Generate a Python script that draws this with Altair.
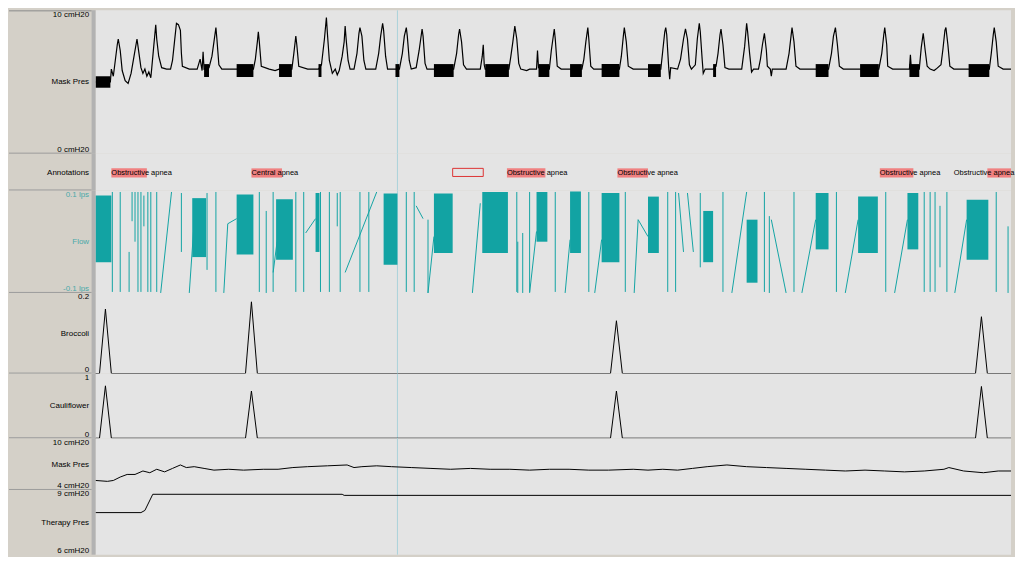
import altair as alt
import pandas as pd

FONT = "Liberation Sans"
LEFT = 87          # width of the label column
W = 920            # plot width
T_MAX = 928        # seconds shown

# ---------------- data ----------------
cursor_t = [306]

# Mask pressure (upper channel, cmH2O): (time s, value)
mask_pres_trace = [
    (0, 5.0), (15, 5.0), (16, 5.9), (18, 5.4), (20, 6.5), (22, 7.6), (23, 8.0), (25, 7.2), (27, 5.8), (30, 5.1), (33, 4.9),
    (36, 5.6), (39, 6.8), (42, 8.0), (44, 7.0), (46, 6.0), (48, 5.6), (50, 5.9), (52, 5.4), (54, 5.7), (56, 5.3),
    (57, 6.0), (59, 7.5), (61, 9.0), (62, 8.0), (64, 6.8), (67, 6.0), (72, 5.9), (76, 5.9),
    (78, 6.5), (80, 7.8), (82, 9.1), (84, 9.0), (86, 8.6), (87, 7.0), (88, 6.1), (95, 5.9), (103, 5.9),
    (106, 6.6), (108, 5.8), (109, 7.1), (110, 5.9), (115, 6.0),
    (118, 6.8), (120, 7.8), (122, 8.8), (123, 8.0), (125, 6.2), (128, 5.9), (143, 5.9), (160, 5.9),
    (162, 6.6), (164, 7.8), (165, 8.5), (166, 7.8), (168, 6.1), (176, 5.9), (182, 5.8), (186, 5.9), (199, 5.9),
    (201, 7.0), (203, 8.2), (204, 7.6), (206, 6.1), (215, 5.9), (226, 5.9), (229, 6.2),
    (232, 8.0), (234, 9.5), (235, 8.4), (237, 6.5), (240, 5.6), (243, 5.9), (245, 5.5), (247, 5.8),
    (250, 6.8), (252, 7.8), (253, 8.9), (254, 8.0), (256, 6.5), (258, 5.9), (262, 5.9),
    (265, 7.0), (267, 8.4), (268, 8.8), (270, 8.2), (272, 6.5), (274, 5.9), (284, 5.9),
    (287, 7.0), (289, 8.2), (291, 9.1), (292, 8.6), (294, 6.8), (296, 5.9), (304, 5.9), (308, 5.9),
    (311, 7.0), (313, 8.2), (315, 8.8), (316, 8.2), (318, 6.5), (320, 5.9), (325, 6.0),
    (328, 7.2), (331, 8.7), (332, 8.2), (334, 6.3), (336, 5.9), (343, 5.9), (363, 5.9),
    (366, 7.0), (368, 8.3), (369, 8.7), (371, 7.8), (373, 6.2), (376, 5.9), (390, 5.9),
    (392, 6.8), (393, 7.6), (394, 6.2), (395, 5.9), (419, 5.9),
    (421, 6.8), (423, 7.8), (425, 8.9), (427, 8.0), (429, 6.3), (431, 5.9), (437, 5.8), (440, 5.9),
    (447, 5.9), (448, 7.2), (449, 6.0), (460, 5.9),
    (462, 7.2), (465, 8.7), (466, 8.0), (468, 6.1), (472, 5.9), (481, 5.9), (493, 5.9),
    (495, 6.6), (497, 7.8), (499, 8.8), (500, 8.0), (502, 6.1), (505, 5.9), (513, 5.9), (531, 5.9),
    (533, 6.8), (535, 8.2), (536, 8.8), (538, 7.8), (540, 6.1), (545, 5.9), (560, 5.9), (573, 5.9),
    (575, 7.2), (577, 8.5), (578, 8.8), (579, 8.3), (581, 6.0), (582, 5.2), (583, 6.0), (590, 5.9),
    (593, 6.6), (596, 8.0), (598, 8.7), (600, 8.0), (602, 6.2), (604, 5.9),
    (608, 6.2), (610, 8.0), (612, 9.1), (613, 8.5), (615, 6.5), (616, 5.6), (618, 5.9), (626, 5.9), (629, 6.1),
    (631, 7.0), (633, 8.3), (634, 8.7), (636, 7.6), (638, 6.0), (642, 5.9), (655, 5.9),
    (658, 7.5), (660, 9.1), (661, 8.5), (663, 7.0), (665, 5.7), (667, 5.9), (672, 5.9),
    (674, 6.6), (676, 7.6), (678, 8.4), (680, 7.2), (681, 6.1), (684, 5.9), (685, 5.4), (686, 5.9), (700, 5.9),
    (703, 7.0), (705, 8.2), (706, 8.8), (708, 7.8), (710, 6.1), (714, 5.9), (730, 5.9), (743, 5.9),
    (746, 7.0), (748, 8.2), (750, 8.8), (752, 7.6), (754, 6.1), (758, 5.9), (775, 5.9), (794, 5.9),
    (797, 7.0), (799, 8.3), (800, 8.8), (802, 7.6), (803, 6.1), (808, 5.9), (825, 5.9), (826, 6.9), (827, 5.9), (835, 5.9),
    (837, 7.4), (839, 8.4), (841, 7.2), (843, 6.1), (846, 5.9), (850, 5.8), (852, 5.9),
    (857, 6.2), (859, 7.3), (861, 8.6), (862, 8.8), (864, 7.6), (866, 6.1), (870, 5.9), (885, 5.9), (906, 5.9),
    (908, 7.0), (910, 8.3), (911, 8.8), (913, 7.8), (915, 6.1), (920, 5.9), (928, 5.9),
]
# dense oscillation blocks in mask pressure
mask_blk_t0 = [0, 110, 143, 186, 226, 304, 343, 395, 449, 481, 513, 560, 626, 730, 775, 825, 885]
mask_blk_t1 = [15, 115, 160, 199, 229, 308, 363, 419, 460, 493, 531, 573, 629, 743, 794, 835, 906]
mask_blk_lo = [4.6] + [5.35] * 16
mask_blk_hi = [5.4] + [6.25] * 16

# Annotations
ann_t = [16, 158, 417, 529, 795, 870]
ann_label = ["Obstructive apnea", "Central apnea", "Obstructive apnea",
             "Obstructive apnea", "Obstructive apnea", "Obstructive apnea"]
hl_t0 = [16, 158, 417, 529, 795, 904]
hl_t1 = [52, 189, 456, 560, 829, 928]
box_t0 = [362]
box_t1 = [393]

# Flow (lps)
flow_spike_t = [17, 25, 43, 46, 53, 56, 62, 122, 166, 180, 203, 211, 228, 237, 248, 268, 277,
                315, 323, 427, 440, 466, 500, 537, 580, 588, 636, 678, 708, 751, 801, 840,
                846, 851, 863, 913]
# partial strokes / ramps: start time, start value, end time, end value
flow_seg_t0 = [34, 37, 40, 49, 87, 113, 173, 245, 337, 428, 433, 856, 925, 613, 683,
               66, 95, 130, 134, 180, 213, 253, 325, 337, 382, 440, 476, 506, 546, 550,
               591, 600, 645, 685, 716, 760, 810, 871]
flow_seg_v0 = [-0.098, 0.097, 0.097, 0.09, 0.095, 0.095, 0.06, 0.095, 0.043, 0.0, 0.017, 0.07, 0.03, 0.095, 0.05,
               -0.1, -0.1, -0.1, 0.035, -0.06, 0.017, -0.06, 0.07, -0.1, -0.1, -0.1, -0.1, -0.1, -0.1, 0.043,
               0.095, 0.095, -0.1, 0.043, -0.1, -0.1, -0.1, -0.1]
flow_seg_t1 = [34, 37, 40, 49, 87, 113, 173, 245, 337, 428, 433, 856, 925, 613, 683,
               77, 100, 134, 143, 184, 223, 285, 332, 343, 390, 447, 481, 513, 550, 560,
               596, 606, 660, 700, 730, 773, 823, 883]
flow_seg_v1 = [-0.02, 0.04, 0.0, 0.03, -0.02, -0.055, -0.1, 0.03, -0.1, -0.1, -0.1, -0.05, -0.1, -0.05, -0.1,
               0.097, 0.04, 0.035, 0.045, 0.0, 0.045, 0.097, 0.045, 0.01, 0.075, 0.02, 0.004, 0.004, 0.043, 0.01,
               -0.02, -0.02, 0.097, -0.1, 0.043, 0.043, 0.043, 0.043]
# dense breathing bands
flow_band_t0 = [0, 98, 143, 183, 223, 292, 343, 392, 447, 481, 513, 560, 616, 660, 730, 773, 823, 883]
flow_band_t1 = [16, 112, 160, 200, 227, 306, 362, 418, 458, 492, 531, 571, 626, 671, 743, 793, 834, 905]
flow_band_lo = [-0.04, -0.03, -0.025, -0.035, -0.02, -0.045, -0.022, -0.022, 0.0, -0.022, -0.04, -0.022,
                -0.04, -0.08, -0.015, -0.022, -0.015, -0.035]
flow_band_hi = [0.09, 0.085, 0.092, 0.083, 0.095, 0.094, 0.094, 0.097, 0.097, 0.098, 0.095, 0.088,
                0.06, 0.043, 0.095, 0.088, 0.095, 0.082]

# Broccoli / Cauliflower event channels
event_t = [0, 4, 10, 16, 152, 158, 164, 522, 528, 534, 892, 898, 904, 928]
broccoli_v = [0, 0, 0.16, 0, 0, 0.178, 0, 0, 0.131, 0, 0, 0.141, 0, 0]
cauliflower_v = [0, 0, 0.81, 0, 0, 0.73, 0, 0, 0.73, 0, 0, 0.80, 0, 0]

# Mask pressure (lower, trend) cmH2O
mask2_t = [0, 12, 18, 25, 32, 40, 48, 55, 62, 70, 78, 86, 92, 100, 110, 120, 135, 150, 170, 185,
           200, 215, 235, 255, 262, 270, 285, 300, 320, 340, 360, 380, 400, 420, 440, 460, 480,
           500, 520, 545, 560, 575, 590, 605, 620, 640, 660, 680, 700, 720, 740, 760, 780, 800,
           820, 840, 860, 865, 880, 900, 915, 928]
mask2_v = [5.1, 5.0, 5.1, 5.5, 5.8, 5.8, 6.2, 6.0, 6.4, 6.1, 6.5, 6.9, 6.6, 6.7, 6.5, 6.3, 6.4, 6.3,
           6.4, 6.4, 6.6, 6.7, 6.8, 6.9, 6.6, 6.7, 6.8, 6.7, 6.6, 6.5, 6.4, 6.5, 6.4, 6.4, 6.3, 6.4,
           6.4, 6.3, 6.3, 6.4, 6.3, 6.4, 6.3, 6.5, 6.7, 6.9, 6.7, 6.6, 6.5, 6.4, 6.3, 6.2, 6.3, 6.2,
           6.1, 6.2, 6.4, 6.6, 6.2, 6.0, 6.2, 6.2]

# Therapy pressure cmH2O
therapy_t = [0, 46, 50, 58, 250, 252, 928]
therapy_v = [7.95, 7.95, 8.05, 8.8, 8.8, 8.75, 8.75]

# panel heights (px)
H = [144, 37, 103, 81, 65, 52, 65]

# ---------------- helpers ----------------
XS = alt.Scale(domain=[0, T_MAX], nice=False, zero=False)
SEP = "#9c9c9c"
TEAL = "#12a3a3"
AX_OFF = 4


def yaxis(domain, top, name, bottom, color="#000000"):
    lo, hi = domain
    mid = (lo + hi) / 2
    if top == "":
        vals = [mid]
        expr = f"'{name}'"
    else:
        vals = [lo, mid, hi]
        expr = (f"datum.value == {hi!r} ? '{top}' : datum.value == {lo!r} ? '{bottom}' : '{name}'")
    return alt.Axis(values=vals, labelExpr=expr, title=None, ticks=False, grid=False,
                    domain=False, offset=AX_OFF,
                    labelPadding=3, labelFlush=True, labelOverlap=False, labelColor=color,
                    labelFont=FONT, labelFontSize=8, minExtent=LEFT - AX_OFF, maxExtent=LEFT - AX_OFF)


def frame(h, layers, top_sep=False, bottom_sep=True):
    cur = alt.Chart(pd.DataFrame({"t": cursor_t})).mark_rule(color="#a9d2db", strokeWidth=1).encode(
        x=alt.X("t:Q", scale=XS, axis=None))
    strip = alt.Chart().mark_rect(color="#b2b2b2").encode(
        x=alt.value(-AX_OFF), x2=alt.value(0), y=alt.value(0), y2=alt.value(h))
    parts = [cur] + layers + [strip]
    if bottom_sep:
        parts.append(alt.Chart().mark_rule(color=SEP, strokeWidth=1).encode(
            x=alt.value(-LEFT), x2=alt.value(-AX_OFF), y=alt.value(h - 0.5)))
    if top_sep:
        parts.append(alt.Chart().mark_rule(color="#8a8a8a", strokeWidth=1).encode(
            x=alt.value(-LEFT), x2=alt.value(-AX_OFF), y=alt.value(0.5)))
    return alt.layer(*parts).properties(width=W, height=h)


def yenc(field, scale, ax):
    return alt.Y(field, scale=scale, axis=ax)


# ---------------- panel 1: Mask Pres ----------------
dom1 = [0, 10]
ys1 = alt.Scale(domain=dom1, nice=False, zero=False)
ax1 = yaxis(dom1, "10 cmH20", "Mask Pres", "0 cmH20")
mp = pd.DataFrame(mask_pres_trace, columns=["t", "v"])
mb = pd.DataFrame({"t0": mask_blk_t0, "t1": mask_blk_t1, "lo": mask_blk_lo, "hi": mask_blk_hi})
p1_line = alt.Chart(mp).mark_line(color="#000000", strokeWidth=1.2).encode(
    x=alt.X("t:Q", scale=XS, axis=None), y=yenc("v:Q", ys1, ax1))
p1_blk = alt.Chart(mb).mark_rect(color="#000000").encode(
    x=alt.X("t0:Q", scale=XS, axis=None), x2="t1", y=yenc("lo:Q", ys1, ax1), y2="hi")
panel1 = frame(H[0], [p1_line, p1_blk], top_sep=True)

# ---------------- panel 2: Annotations ----------------
dom2 = [0, 1]
ys2 = alt.Scale(domain=dom2, nice=False, zero=False)
ax2 = yaxis(dom2, "", "Annotations", "")
hl = pd.DataFrame({"t0": hl_t0, "t1": hl_t1, "lo": [0.35] * len(hl_t0), "hi": [0.6] * len(hl_t0)})
bx = pd.DataFrame({"t0": box_t0, "t1": box_t1, "lo": [0.38], "hi": [0.6]})
an = pd.DataFrame({"t": ann_t, "label": ann_label, "y": [0.47] * len(ann_t)})
p2_hl = alt.Chart(hl).mark_rect(color="#f08181").encode(
    x=alt.X("t0:Q", scale=XS, axis=None), x2="t1", y=yenc("lo:Q", ys2, ax2), y2="hi")
p2_box = alt.Chart(bx).mark_rect(fill="#e4e4e4", stroke="#dd3333", strokeWidth=1).encode(
    x=alt.X("t0:Q", scale=XS, axis=None), x2="t1", y=yenc("lo:Q", ys2, ax2), y2="hi")
p2_txt = alt.Chart(an).mark_text(align="left", baseline="middle", font=FONT, fontSize=7.5,
                                 color="#000000").encode(
    x=alt.X("t:Q", scale=XS, axis=None), y=yenc("y:Q", ys2, ax2), text="label:N")
panel2 = frame(H[1], [p2_hl, p2_box, p2_txt])

# ---------------- panel 3: Flow ----------------
dom3 = [-0.1, 0.1]
ys3 = alt.Scale(domain=dom3, nice=False, zero=False)
ax3 = yaxis(dom3, "0.1 lps", "Flow", "-0.1 lps", color="#4aa9a9")
spk = pd.DataFrame({"t0": flow_spike_t, "t1": flow_spike_t,
                    "v0": [-0.098] * len(flow_spike_t), "v1": [0.097] * len(flow_spike_t)})
seg = pd.DataFrame({"t0": flow_seg_t0, "v0": flow_seg_v0, "t1": flow_seg_t1, "v1": flow_seg_v1})
allseg = pd.concat([spk, seg], ignore_index=True)
bands = pd.DataFrame({"t0": flow_band_t0, "t1": flow_band_t1, "lo": flow_band_lo, "hi": flow_band_hi})
p3_seg = alt.Chart(allseg).mark_rule(color=TEAL, strokeWidth=1).encode(
    x=alt.X("t0:Q", scale=XS, axis=None), x2="t1", y=yenc("v0:Q", ys3, ax3), y2="v1")
p3_band = alt.Chart(bands).mark_rect(color=TEAL).encode(
    x=alt.X("t0:Q", scale=XS, axis=None), x2="t1", y=yenc("lo:Q", ys3, ax3), y2="hi")
panel3 = frame(H[2], [p3_seg, p3_band])


def trace_panel(h, t, v, dom, top, name, bottom, bottom_sep=True):
    ys = alt.Scale(domain=dom, nice=False, zero=False)
    ax = yaxis(dom, top, name, bottom)
    ln = alt.Chart(pd.DataFrame({"t": t, "v": v})).mark_line(color="#000000", strokeWidth=1).encode(
        x=alt.X("t:Q", scale=XS, axis=None), y=yenc("v:Q", ys, ax))
    return frame(h, [ln], bottom_sep=bottom_sep)


panel4 = trace_panel(H[3], event_t, broccoli_v, [0, 0.2], "0.2", "Broccoli", "0")
panel5 = trace_panel(H[4], event_t, cauliflower_v, [0, 1], "1", "Cauliflower", "0")
panel6 = trace_panel(H[5], mask2_t, mask2_v, [4, 10], "10 cmH20", "Mask Pres", "4 cmH20")
panel7 = trace_panel(H[6], therapy_t, therapy_v, [6, 9], "9 cmH20", "Therapy Pres", "6 cmH20",
                     bottom_sep=False)

chart = alt.vconcat(panel1, panel2, panel3, panel4, panel5, panel6, panel7,
                    spacing=0, bounds="flush").properties(
    padding=0, background="#d4d0c8"
).configure_view(stroke=None, fill="#e4e4e4").configure_concat(spacing=0)

chart.save("out.html", embed_options={"renderer": "svg", "actions": False})
